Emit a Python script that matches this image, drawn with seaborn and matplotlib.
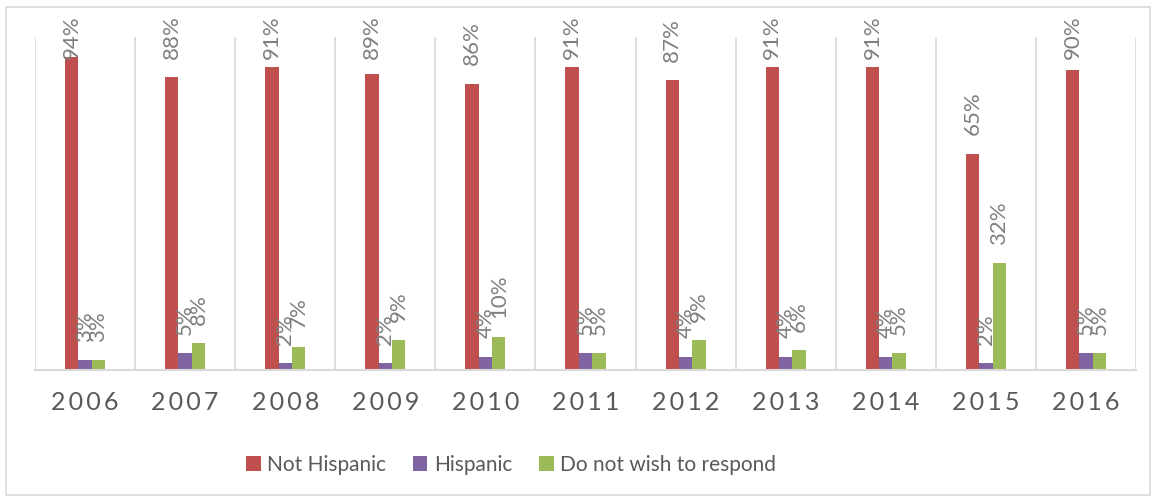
import numpy as np
import pandas as pd
import seaborn as sns
import matplotlib.pyplot as plt
from matplotlib.patches import Rectangle

years = ["2006", "2007", "2008", "2009", "2010", "2011",
         "2012", "2013", "2014", "2015", "2016"]
not_hispanic = [94, 88, 91, 89, 86, 91, 87, 91, 91, 65, 90]
hispanic = [3, 5, 2, 2, 4, 5, 4, 4, 4, 2, 5]
no_response = [3, 8, 7, 9, 10, 5, 9, 6, 5, 32, 5]

series = ["Not Hispanic", "Hispanic", "Do not wish to respond"]
colors = ["#C0504D", "#8064A2", "#9BBB59"]

df = pd.DataFrame({
    "year": years * 3,
    "value": not_hispanic + hispanic + no_response,
    "series": [s for s in series for _ in years],
})

sns.set_theme(style = "white")
plt.rcParams['font.family'] = ['Lato', 'DejaVu Sans']

fig = plt.figure(figsize = (11.56, 5.0), dpi = 100)
ax = fig.add_axes([0.0303, 0.26, 0.9524, 0.666])

sns.barplot(data = df, x = "year", y = "value", hue = "series",
    hue_order = series, palette = colors, width = 0.4, gap = 0,
    linewidth = 0, saturation = 1, legend = True, ax = ax)

ax.set_ylim(0, 100)
ax.set_xlim(-0.5, len(years) - 0.5)
ax.set_yticks([])
ax.set_xlabel("")
ax.set_ylabel("")
ax.set_xticks(np.arange(-0.5, len(years), 1), minor = True)
ax.grid(True, which = "minor", axis = "x", color = "#D9D9D9", linewidth = 1.2)
ax.tick_params(axis = "x", which = "both", length = 0, pad = 15,
    labelsize = 18, labelcolor = "#595959")
# spaced-out year labels like the original
ax.set_xticks(range(len(years)))
ax.set_xticklabels(["\u2009".join(y) for y in years], fontsize = 18)
for s in ["top", "right", "left"]:
    ax.spines[s].set_visible(False)
ax.spines["bottom"].set_color("#D9D9D9")
ax.spines["bottom"].set_linewidth(1.5)

# data labels, rotated, clamped at the top of the chart
for container in ax.containers:
    for bar in container:
        v = bar.get_height()
        xc = bar.get_x() + bar.get_width() / 2
        ax.text(xc, min(v + 5.5, 93.4), f"{v:.0f}%", rotation = 90,
            ha = "center", va = "bottom", fontsize = 16, color = "#7F7F7F",
            clip_on = False)

handles, labels = ax.get_legend_handles_labels()
ax.legend_.remove()
fig.legend(handles, labels, loc = "center", bbox_to_anchor = (0.442, 0.07),
    ncol = 3, frameon = False, fontsize = 15, handlelength = 0.7,
    handleheight = 0.7, handletextpad = 0.3, columnspacing = 1.3,
    labelcolor = "#595959")

fig.patches.append(Rectangle((0.005, 0.01), 0.99, 0.976, transform = fig.transFigure,
    fill = False, edgecolor = "#D9D9D9", linewidth = 1.2))

fig.savefig("out.png", dpi = 100)
